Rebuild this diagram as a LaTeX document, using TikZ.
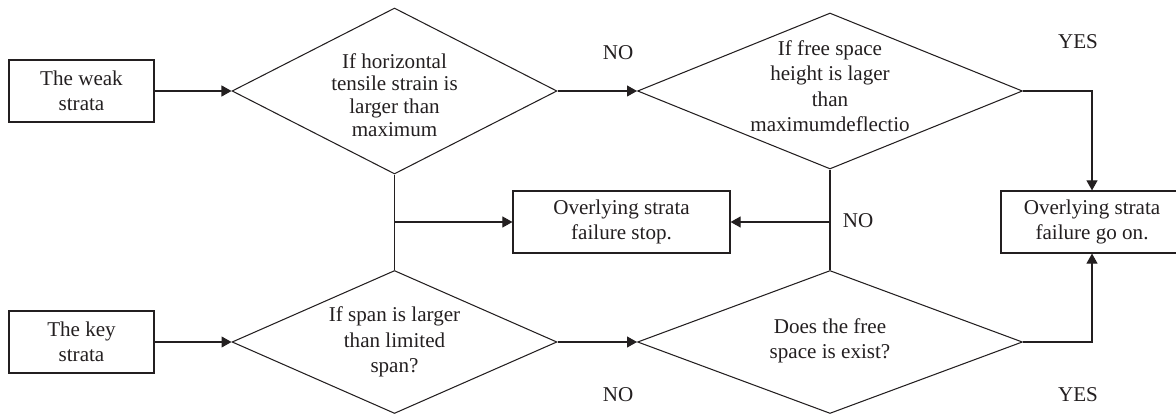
\documentclass[tikz,border=0pt]{standalone}
\usepackage{fontspec}
\setmainfont{Liberation Serif}
\usetikzlibrary{shapes.geometric,arrows.meta}
\definecolor{inkgray}{HTML}{231F20}

\begin{document}
\begin{tikzpicture}[
  x=0.02cm,
  y=-0.02cm,
  every node/.style={
    text=inkgray,
    font=\fontsize{12}{14.5}\selectfont
  },
  strata box/.style={
    draw=inkgray,
    line width=0.7pt,
    minimum height=1.24cm,
    inner sep=0pt,
    align=center
  },
  decision/.style={
    draw=inkgray,
    diamond,
    line width=0.6pt,
    inner sep=0pt
  },
  question/.style={
    align=center,
    inner sep=0pt
  },
  link/.style={
    draw=inkgray,
    line width=0.6pt
  },
  flow/.style={
    link,
    -{Triangle[length=0.2cm,width=0.22cm]}
  },
]
\useasboundingbox (0,0) rectangle (1176,415);

% start boxes
\node[strata box, minimum width=2.9cm] (weak) at (81.5,91) {The weak\\strata};
\node[strata box, minimum width=2.9cm] (key) at (81.5,342) {The key\\strata};

% decisions
\node[decision, minimum width=6.5cm, minimum height=3.32cm] (ifstrain) at (394.5,91) {};
\node[question, font=\fontsize{12}{13}\selectfont] (ifstraintext) at (394.5,95)
  {If horizontal\\tensile strain is\\larger than\\maximum};
\node[decision, minimum width=7.7cm, minimum height=3.12cm] (ifheight) at (830,91) {};
\node[question] (ifheighttext) at (830,86)
  {If free space\\height is lager\\than\\maximumdeflectio};
\node[decision, minimum width=6.5cm, minimum height=2.86cm] (ifspan) at (394.5,342) {};
\node[question] (ifspantext) at (394.5,342)
  {If span is larger\\than limited\\span?};
\node[decision, minimum width=7.7cm, minimum height=2.86cm] (ifexist) at (830,342) {};
\node[question] (ifexisttext) at (830,341)
  {Does the free\\space is exist?};

% results
\node[strata box, minimum width=4.34cm] (stop) at (621.5,222) {Overlying strata\\failure stop.};
\node[strata box, minimum width=3.64cm] (goon) at (1092,222) {Overlying strata\\failure go on.};

% connectors
\draw[flow] (weak) -- (ifstrain);
\draw[flow] (ifstrain) -- (ifheight);
\draw[flow] (ifheight.east) -| (goon.north);
\draw[flow] (key) -- (ifspan);
\draw[flow] (ifspan) -- (ifexist);
\draw[flow] (ifexist.east) -| (goon.south);
\draw[link] (ifstrain.south) -- (ifspan.north);
\draw[flow] (ifstrain.south |- stop.west) -- (stop.west);
\draw[link] (ifheight.south) -- (ifexist.north);
\draw[flow] (ifheight.south |- stop.east) -- (stop.east);

% answers
\node (noheight) at (618,53) {NO};
\node (yesheight) at (1078,42) {YES};
\node (nostop) at (858,221) {NO};
\node (noexist) at (618,395) {NO};
\node (yesexist) at (1078,395) {YES};
\end{tikzpicture}
\end{document}
